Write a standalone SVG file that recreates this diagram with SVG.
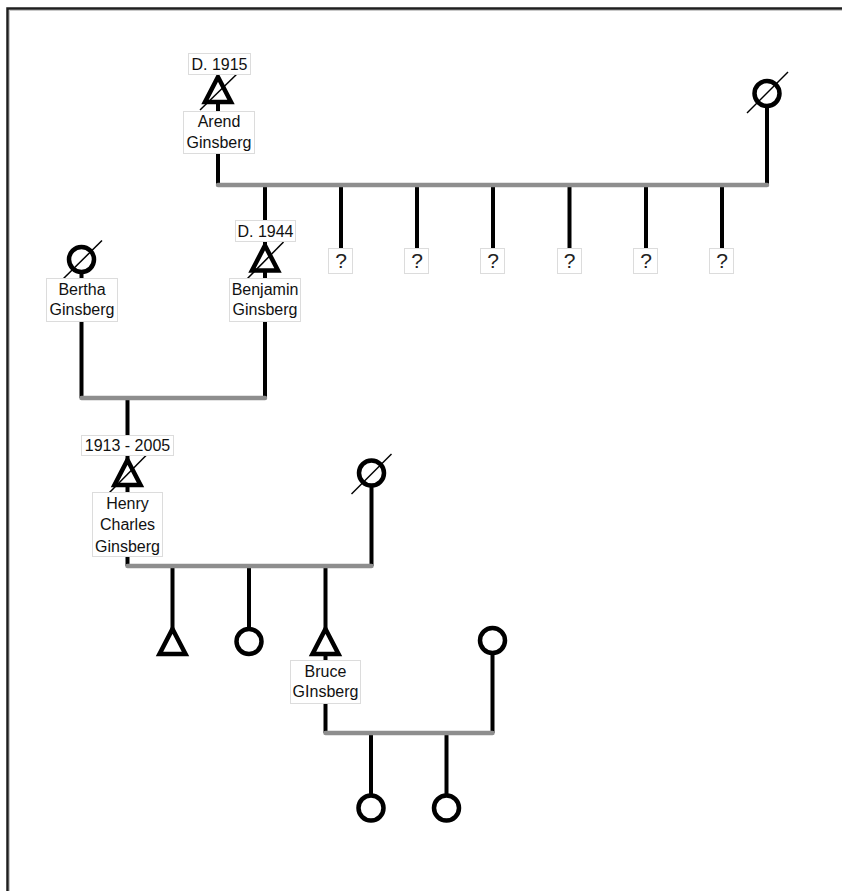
<svg xmlns="http://www.w3.org/2000/svg" width="842" height="891" viewBox="0 0 842 891">
<style>
.ln{stroke:#000;stroke-width:4;fill:none}
.bar{stroke:#8e8e8e;stroke-width:4.5;fill:none;stroke-linecap:round}
.sym{stroke:#000;stroke-width:4.5;fill:#fff}
.dead{stroke:#000;stroke-width:1.5}
.box{fill:#fff;stroke:#dcdcdc;stroke-width:1}
.t{font-family:"Liberation Sans",Arial,sans-serif;font-size:16px;fill:#111;text-anchor:middle}
.q{font-family:"Liberation Sans",Arial,sans-serif;font-size:21px;fill:#222;text-anchor:middle}
</style>
<defs>
<path id="tri" d="M0,-13 L13,12 L-13,12 Z"/>
<circle id="cir" r="12.5"/>
</defs>
<rect x="0" y="0" width="842" height="891" fill="#fff"/>
<rect x="7.5" y="8.5" width="900" height="900" fill="none" stroke="#1e1e1e" stroke-width="2.5"/>
<rect x="9.5" y="10.5" width="900" height="900" fill="none" stroke="#c8c8c8" stroke-width="1"/>

<g id="connectors">
  <line class="ln" x1="218" y1="100" x2="218" y2="185"/>
  <line class="ln" x1="767" y1="104" x2="767" y2="185"/>
  <line class="ln" x1="265" y1="185" x2="265" y2="250"/>
  <line class="ln" x1="341" y1="185" x2="341" y2="248"/>
  <line class="ln" x1="417" y1="185" x2="417" y2="248"/>
  <line class="ln" x1="493" y1="185" x2="493" y2="248"/>
  <line class="ln" x1="569.5" y1="185" x2="569.5" y2="248"/>
  <line class="ln" x1="646" y1="185" x2="646" y2="248"/>
  <line class="ln" x1="722" y1="185" x2="722" y2="248"/>
  <line class="bar" x1="218" y1="185" x2="767" y2="185"/>
  <line class="ln" x1="81.5" y1="270" x2="81.5" y2="398"/>
  <line class="ln" x1="265" y1="268" x2="265" y2="398"/>
  <line class="ln" x1="127.5" y1="398" x2="127.5" y2="463"/>
  <line class="bar" x1="81.5" y1="398" x2="265" y2="398"/>
  <line class="ln" x1="127.5" y1="483" x2="127.5" y2="566"/>
  <line class="ln" x1="371.5" y1="484" x2="371.5" y2="566"/>
  <line class="ln" x1="172.5" y1="566" x2="172.5" y2="633"/>
  <line class="ln" x1="249" y1="566" x2="249" y2="630"/>
  <line class="ln" x1="325.5" y1="566" x2="325.5" y2="633"/>
  <line class="bar" x1="127.5" y1="566" x2="371.5" y2="566"/>
  <line class="ln" x1="325.5" y1="650" x2="325.5" y2="733"/>
  <line class="ln" x1="492.5" y1="651" x2="492.5" y2="733"/>
  <line class="ln" x1="371" y1="733" x2="371" y2="797"/>
  <line class="ln" x1="446.5" y1="733" x2="446.5" y2="797"/>
  <line class="bar" x1="325.5" y1="733" x2="492.5" y2="733"/>
</g>

<g id="arend">
  <use href="#tri" class="sym" x="218" y="90"/>
  <line class="dead" x1="200" y1="110" x2="239" y2="72"/>
  <rect class="box" x="188.5" y="53.5" width="62" height="21"/>
  <text class="t" x="219.5" y="69.5">D. 1915</text>
  <rect class="box" x="183.5" y="111.5" width="71" height="42"/>
  <text class="t" x="219" y="127">Arend</text>
  <text class="t" x="219" y="148">Ginsberg</text>
</g>

<g id="arend-spouse">
  <use href="#cir" class="sym" x="767" y="93.5"/>
  <line class="dead" x1="747" y1="113" x2="788" y2="72"/>
</g>

<g id="unknown1"><rect class="box" x="328.5" y="248.5" width="24" height="25"/><text class="q" x="341" y="268">?</text></g>
<g id="unknown2"><rect class="box" x="404.5" y="248.5" width="24" height="25"/><text class="q" x="417" y="268">?</text></g>
<g id="unknown3"><rect class="box" x="480.5" y="248.5" width="24" height="25"/><text class="q" x="493" y="268">?</text></g>
<g id="unknown4"><rect class="box" x="557.5" y="248.5" width="24" height="25"/><text class="q" x="569.5" y="268">?</text></g>
<g id="unknown5"><rect class="box" x="633.5" y="248.5" width="24" height="25"/><text class="q" x="646" y="268">?</text></g>
<g id="unknown6"><rect class="box" x="709.5" y="248.5" width="24" height="25"/><text class="q" x="722" y="268">?</text></g>

<g id="benjamin">
  <use href="#tri" class="sym" x="265" y="258.5"/>
  <line class="dead" x1="246.5" y1="279.5" x2="283.5" y2="242"/>
  <rect class="box" x="235.5" y="220.5" width="60" height="21"/>
  <text class="t" x="265.5" y="236.5">D. 1944</text>
  <rect class="box" x="229.5" y="278.5" width="71" height="43"/>
  <text class="t" x="265" y="295">Benjamin</text>
  <text class="t" x="265" y="315">Ginsberg</text>
</g>

<g id="bertha">
  <use href="#cir" class="sym" x="81.5" y="259.5"/>
  <line class="dead" x1="61" y1="281" x2="102" y2="240.5"/>
  <rect class="box" x="46.5" y="278.5" width="71" height="43"/>
  <text class="t" x="82" y="295">Bertha</text>
  <text class="t" x="82" y="315">Ginsberg</text>
</g>

<g id="henry">
  <use href="#tri" class="sym" x="127.5" y="473"/>
  <line class="dead" x1="109.5" y1="492.5" x2="146" y2="455.5"/>
  <rect class="box" x="81.5" y="435.5" width="92" height="20"/>
  <text class="t" x="127.5" y="451">1913 - 2005</text>
  <rect class="box" x="92.5" y="492.5" width="70" height="64"/>
  <text class="t" x="127.5" y="509">Henry</text>
  <text class="t" x="127.5" y="530">Charles</text>
  <text class="t" x="127.5" y="551.5">Ginsberg</text>
</g>

<g id="henry-spouse">
  <use href="#cir" class="sym" x="371.5" y="473"/>
  <line class="dead" x1="351.5" y1="494" x2="391.5" y2="454"/>
</g>

<g id="child1"><use href="#tri" class="sym" x="172.5" y="642"/></g>
<g id="child2"><use href="#cir" class="sym" x="249" y="641.5"/></g>

<g id="bruce">
  <use href="#tri" class="sym" x="325.5" y="642"/>
  <rect class="box" x="290.5" y="660.5" width="70" height="43"/>
  <text class="t" x="325.5" y="676.5">Bruce</text>
  <text class="t" x="325.5" y="697">GInsberg</text>
</g>

<g id="bruce-spouse"><use href="#cir" class="sym" x="492.5" y="640.5"/></g>
<g id="grandchild1"><use href="#cir" class="sym" x="371" y="808"/></g>
<g id="grandchild2"><use href="#cir" class="sym" x="446.5" y="808"/></g>
</svg>
